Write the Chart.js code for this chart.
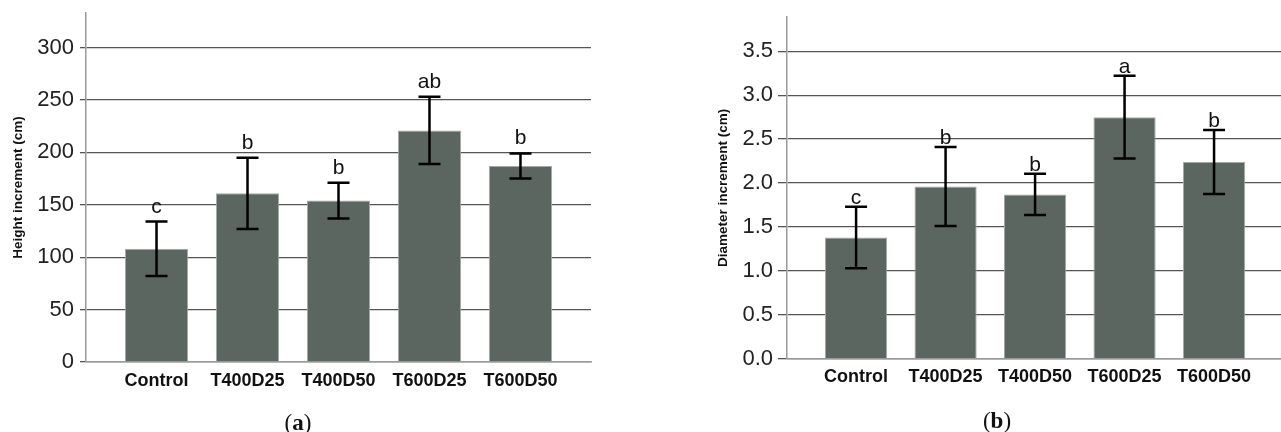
<!DOCTYPE html>
<html><head><meta charset="utf-8">
<script src="https://cdn.jsdelivr.net/npm/chart.js@4/dist/chart.umd.min.js"></script>
<style>
html,body{margin:0;padding:0;background:#fff;width:1281px;height:432px;overflow:hidden;position:relative;}
canvas{position:absolute;top:0;}
#ca{left:0;}
#cb{left:700px;}
.lab{position:absolute;font-family:"Liberation Serif","DejaVu Serif",serif;font-size:23px;transform:translate(-50%,-50%);line-height:1;color:#111;white-space:nowrap;}
</style></head><body>
<canvas id="ca" width="640" height="432"></canvas>
<canvas id="cb" width="581" height="432"></canvas>
<div class="lab" style="left:298px;top:422px;">(<b>a</b>)</div>
<div class="lab" style="left:997px;top:420px;">(<b>b</b>)</div>
<script>
const categories = ["Control", "T400D25", "T400D50", "T600D25", "T600D50"];

const heightMean = [108, 161, 154, 221, 187];
const heightErr  = [26, 34, 17, 32, 12];
const heightLetters = ["c", "b", "b", "ab", "b"];
const heightTicks = [0, 50, 100, 150, 200, 250, 300];

const diamMean = [1.38, 1.96, 1.87, 2.75, 2.24];
const diamErr  = [0.35, 0.45, 0.235, 0.47, 0.365];
const diamLetters = ["c", "b", "b", "a", "b"];
const diamTicks = [0, 0.5, 1.0, 1.5, 2.0, 2.5, 3.0, 3.5];

const BAR = '#5b6661';
const GRID = '#555555';
const AXIS = '#9a9a9a';

const errPlugin = {
  id: 'errbars',
  afterDatasetsDraw(chart, args, opts) {
    const {ctx, scales: {x, y}} = chart;
    ctx.save();
    ctx.strokeStyle = '#000';
    ctx.lineWidth = 2.5;
    ctx.fillStyle = '#111';
    ctx.font = '21px "Liberation Sans", Arial, sans-serif';
    ctx.textAlign = 'center';
    ctx.textBaseline = 'alphabetic';
    opts.mean.forEach((m, i) => {
      const px = x.getPixelForValue(i);
      const yt = y.getPixelForValue(m + opts.err[i]);
      const yb = y.getPixelForValue(m - opts.err[i]);
      ctx.beginPath();
      ctx.moveTo(px, yt); ctx.lineTo(px, yb);
      ctx.moveTo(px - 11, yt); ctx.lineTo(px + 11, yt);
      ctx.moveTo(px - 11, yb); ctx.lineTo(px + 11, yb);
      ctx.stroke();
      ctx.fillText(opts.letters[i], px, yt - opts.offset);
    });
    ctx.restore();
  }
};

function makeChart(id, cfg) {
  return new Chart(document.getElementById(id), {
    type: 'bar',
    data: {
      datasets: [{
        data: cfg.mean.map((v, i) => ({x: i, y: v})),
        backgroundColor: BAR,
        borderColor: '#a4aaa6',
        borderWidth: 1,
        barPercentage: 1,
        categoryPercentage: 0.695
      }]
    },
    options: {
      responsive: false,
      animation: false,
      events: [],
      layout: {padding: {top: cfg.top, right: cfg.right, bottom: 0, left: 0}},
      plugins: {
        legend: {display: false},
        tooltip: {enabled: false},
        errbars: {mean: cfg.mean, err: cfg.err, letters: cfg.letters, offset: cfg.letterOffset}
      },
      scales: {
        x: {
          type: 'linear',
          min: cfg.xmin, max: cfg.xmax,
          offset: false,
          grid: {display: false, drawTicks: false, tickLength: 0},
          border: {display: true, color: AXIS, width: 1.5},
          afterBuildTicks: s => { s.ticks = categories.map((c, i) => ({value: i})); },
          afterFit: s => { s.height = cfg.xHeight; s.paddingLeft = 0; s.paddingRight = 0; },
          ticks: {
            autoSkip: false, maxRotation: 0,
            padding: 8,
            color: '#111',
            font: {family: '"Liberation Sans", Arial, sans-serif', size: 18, weight: 'bold'},
            callback: v => categories[Math.round(v)]
          }
        },
        y: {
          min: 0, max: cfg.ymax,
          grid: {color: GRID, lineWidth: 1.3, drawTicks: true, tickLength: cfg.tickLength},
          border: {display: true, color: AXIS, width: 1.5},
          afterBuildTicks: s => { s.ticks = cfg.ticks.map(v => ({value: v})); },
          afterFit: s => { s.width = cfg.yWidth; s.paddingTop = 0; s.paddingBottom = 0; },
          ticks: {
            padding: cfg.tickPad,
            color: '#222',
            font: {family: '"Liberation Sans", Arial, sans-serif', size: 22},
            callback: cfg.fmt
          },
          title: {
            display: true,
            text: cfg.title,
            color: '#111',
            font: {family: '"Liberation Sans", Arial, sans-serif', size: 13.5, weight: 'bold'},
            padding: {top: cfg.titlePad, bottom: 0}
          }
        }
      }
    },
    plugins: [errPlugin]
  });
}

makeChart('ca', {
  mean: heightMean, err: heightErr, letters: heightLetters, ticks: heightTicks,
  title: 'Height increment (cm)', fmt: v => String(v),
  top: 13, right: 49, xHeight: 70, yWidth: 86, ymax: 333,
  xmin: -0.775, xmax: 4.775, tickLength: 6, tickPad: 6, titlePad: 10, letterOffset: 9
});

makeChart('cb', {
  mean: diamMean, err: diamErr, letters: diamLetters, ticks: diamTicks,
  title: 'Diameter increment (cm)', fmt: v => Number(v).toFixed(1),
  top: 17, right: 0, xHeight: 73.3, yWidth: 87, ymax: 3.89,
  xmin: -0.772, xmax: 4.748, tickLength: 9, tickPad: 5, titlePad: 15.5, letterOffset: 3
});
</script>
</body></html>
